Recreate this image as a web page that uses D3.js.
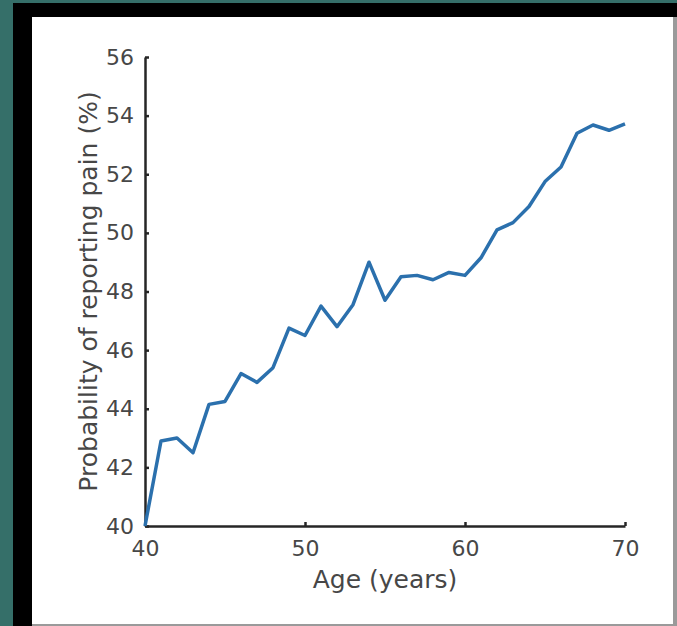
<!DOCTYPE html>
<html>
<head>
<meta charset="utf-8">
<script src="https://cdn.jsdelivr.net/npm/d3@7"></script>
<style>
  html, body { margin: 0; padding: 0; background: #356f69; }
  svg { display: block; }
</style>
</head>
<body>
<div id="chart"></div>
<script>
// Age (years) and probability of reporting pain (%)
const ages = d3.range(40, 71);
const painPct = [
  40.0, 42.9, 43.0, 42.5, 44.15, 44.25, 45.2, 44.9, 45.4, 46.75,
  46.5, 47.5, 46.8, 47.55, 49.0, 47.7, 48.5, 48.55, 48.4, 48.65,
  48.55, 49.15, 50.1, 50.35, 50.9, 51.75, 52.25, 53.4, 53.68, 53.5,
  53.72
];
const xTicks = [40, 50, 60, 70];
const yTicks = [40, 42, 44, 46, 48, 50, 52, 54, 56];

const width = 677, height = 626;

const svg = d3.select('#chart').append('svg')
    .attr('width', width)
    .attr('height', height);

// cadre de la capture (fond teal, bande noire, panneau blanc)
svg.append('rect').attr('x', 0).attr('y', 0).attr('width', width).attr('height', height).attr('fill', '#356f69');
svg.append('rect').attr('x', 13).attr('y', 3).attr('width', width - 13).attr('height', height - 3).attr('fill', '#000');
svg.append('rect').attr('x', 32).attr('y', 17).attr('width', width - 32).attr('height', height - 17).attr('fill', '#9a9a9a');
svg.append('rect').attr('x', 32).attr('y', 17).attr('width', width - 32 - 4).attr('height', height - 17 - 2).attr('fill', '#fff');

const x = d3.scaleLinear().domain([40, 70]).range([145, 625]);
const y = d3.scaleLinear().domain([40, 56]).range([526, 57]);

const axisColor = '#262626';
const textColor = '#474747';

// axe X
const gx = svg.append('g')
    .attr('transform', `translate(0,${y(40)})`)
    .call(d3.axisBottom(x).tickValues(xTicks).tickSizeInner(-4).tickSizeOuter(0).tickPadding(14));
gx.select('.domain').attr('stroke', axisColor).attr('stroke-width', 2.5);
gx.selectAll('.tick line').attr('stroke', axisColor).attr('stroke-width', 2.5);
gx.selectAll('.tick text')
    .attr('fill', textColor)
    .style('font-family', 'DejaVu Sans')
    .style('font-size', '22px');

// axe Y
const gy = svg.append('g')
    .attr('transform', `translate(${x(40)},0)`)
    .call(d3.axisLeft(y).tickValues(yTicks).tickSizeInner(-4).tickSizeOuter(0).tickPadding(11));
gy.select('.domain').attr('stroke', axisColor).attr('stroke-width', 2.5);
gy.selectAll('.tick line').attr('stroke', axisColor).attr('stroke-width', 2.5);
gy.selectAll('.tick text')
    .attr('fill', textColor)
    .style('font-family', 'DejaVu Sans')
    .style('font-size', '22px');

// courbe
const line = d3.line()
    .x((d, i) => x(ages[i]))
    .y(d => y(d));

svg.append('path')
    .datum(painPct)
    .attr('fill', 'none')
    .attr('stroke', '#2b70ad')
    .attr('stroke-width', 3.5)
    .attr('stroke-linejoin', 'round')
    .attr('d', line);

// titres des axes
svg.append('text')
    .attr('x', (x(40) + x(70)) / 2)
    .attr('y', 588)
    .attr('text-anchor', 'middle')
    .attr('fill', textColor)
    .style('font-family', 'DejaVu Sans')
    .style('font-size', '25px')
    .text('Age (years)');

svg.append('text')
    .attr('transform', `translate(97,${(y(40) + y(56)) / 2}) rotate(-90)`)
    .attr('text-anchor', 'middle')
    .attr('fill', textColor)
    .style('font-family', 'DejaVu Sans')
    .style('font-size', '25px')
    .text('Probability of reporting pain (%)');
</script>
</body>
</html>
